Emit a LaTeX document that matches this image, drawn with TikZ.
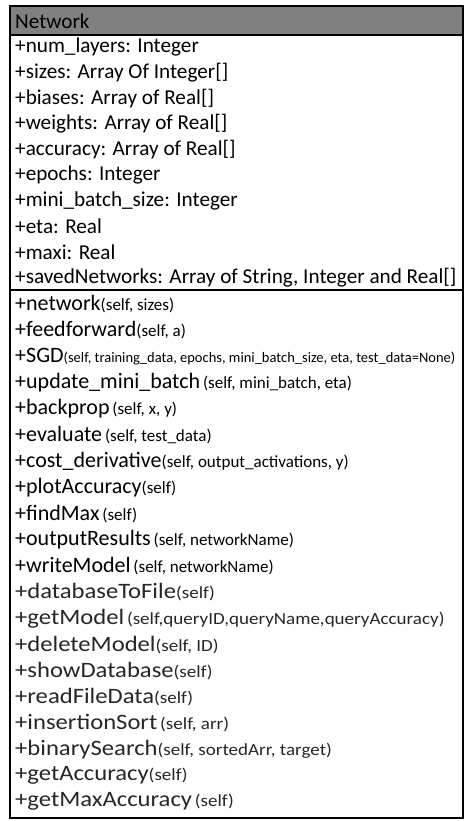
\documentclass[tikz,border=0pt]{standalone}
\usepackage{fontspec}
\setmainfont{Carlito}
\newfontfamily\widefont[FakeStretch=1.12]{Carlito}
\definecolor{hdrgrey}{HTML}{808080}
\definecolor{lowtext}{HTML}{262626}
\newcommand{\mname}[1]{{\fontsize{22}{26}\selectfont #1}}
\newcommand{\margs}[1]{{\fontsize{17}{20}\selectfont #1}}
\newcommand{\margstiny}[1]{{\fontsize{14.5}{17}\selectfont #1}}
\tikzset{
  attr/.style={anchor=west, inner sep=0pt, font=\fontsize{21.2}{25}\selectfont},
  meth/.style={anchor=west, inner sep=0pt},
  methlow/.style={anchor=west, inner sep=0pt, font=\widefont, text=lowtext},
  boxline/.style={draw=black, line width=2pt},
  divline/.style={draw=black, line width=1.5pt}
}
\begin{document}
\begin{tikzpicture}[x=1pt,y=-1pt]
\useasboundingbox (0,0) rectangle (471,821);
% header
\fill[hdrgrey] (10,6) rectangle (463,35);
\draw[divline] (10,35) -- (463,35);
\draw[divline] (10,290) -- (463,290);
\draw[boxline] (10,6) rectangle (463,818);
\node[attr] (hdr) at (15,21) {Network};
% attributes
\node[attr] (a1) at (15,47) {+num\_layers: Integer};
\node[attr] (a2) at (15,72.6) {+sizes: Array Of Integer[]};
\node[attr] (a3) at (15,98.2) {+biases: Array of Real[]};
\node[attr] (a4) at (15,123.8) {+weights: Array of Real[]};
\node[attr] (a5) at (15,149.4) {+accuracy: Array of Real[]};
\node[attr] (a6) at (15,175) {+epochs: Integer};
\node[attr] (a7) at (15,200.6) {+mini\_batch\_size: Integer};
\node[attr] (a8) at (15,226.2) {+eta: Real};
\node[attr] (a9) at (15,251.8) {+maxi: Real};
\node[attr] (a10) at (15,277.4) {+savedNetworks: Array of String, Integer and Real[]};
% methods
\node[meth] (m1) at (15,304) {\mname{+network}\margs{(self, sizes)}};
\node[meth] (m2) at (15,330.2) {\mname{+feedforward}\margs{(self, a)}};
\node[meth] (m3) at (15,356.4) {\mname{+SGD}\margstiny{(self, training\_data, epochs, mini\_batch\_size, eta, test\_data=None)}};
\node[meth] (m4) at (15,382.6) {\mname{+update\_mini\_batch}\margs{\,(self, mini\_batch, eta)}};
\node[meth] (m5) at (15,408.8) {\mname{+backprop}\margs{\,(self, x, y)}};
\node[meth] (m6) at (15,435) {\mname{+evaluate}\margs{\,(self, test\_data)}};
\node[meth] (m7) at (15,461.2) {\mname{+cost\_derivative}\margs{(self, output\_activations, y)}};
\node[meth] (m8) at (15,487.4) {\mname{+plotAccuracy}\margs{(self)}};
\node[meth] (m9) at (15,513.6) {\mname{+findMax}\margs{\,(self)}};
\node[meth] (m10) at (15,539.8) {\mname{+outputResults}\margs{\,(self, networkName)}};
\node[meth] (m11) at (15,566) {\mname{+writeModel}\margs{\,(self, networkName)}};
\node[methlow] (m12) at (15,592.2) {\mname{+databaseToFile}\margs{(self)}};
\node[methlow] (m13) at (15,618.4) {\mname{+getModel}\margs{\,(self,queryID,queryName,queryAccuracy)}};
\node[methlow] (m14) at (15,644.6) {\mname{+deleteModel}\margs{(self, ID)}};
\node[methlow] (m15) at (15,670.8) {\mname{+showDatabase}\margs{(self)}};
\node[methlow] (m16) at (15,697) {\mname{+readFileData}\margs{(self)}};
\node[methlow] (m17) at (15,723.2) {\mname{+insertionSort}\margs{\,(self, arr)}};
\node[methlow] (m18) at (15,749.4) {\mname{+binarySearch}\margs{(self, sortedArr, target)}};
\node[methlow] (m19) at (15,775.6) {\mname{+getAccuracy}\margs{(self)}};
\node[methlow] (m20) at (15,801.8) {\mname{+getMaxAccuracy}\margs{\,(self)}};
\end{tikzpicture}
\end{document}
